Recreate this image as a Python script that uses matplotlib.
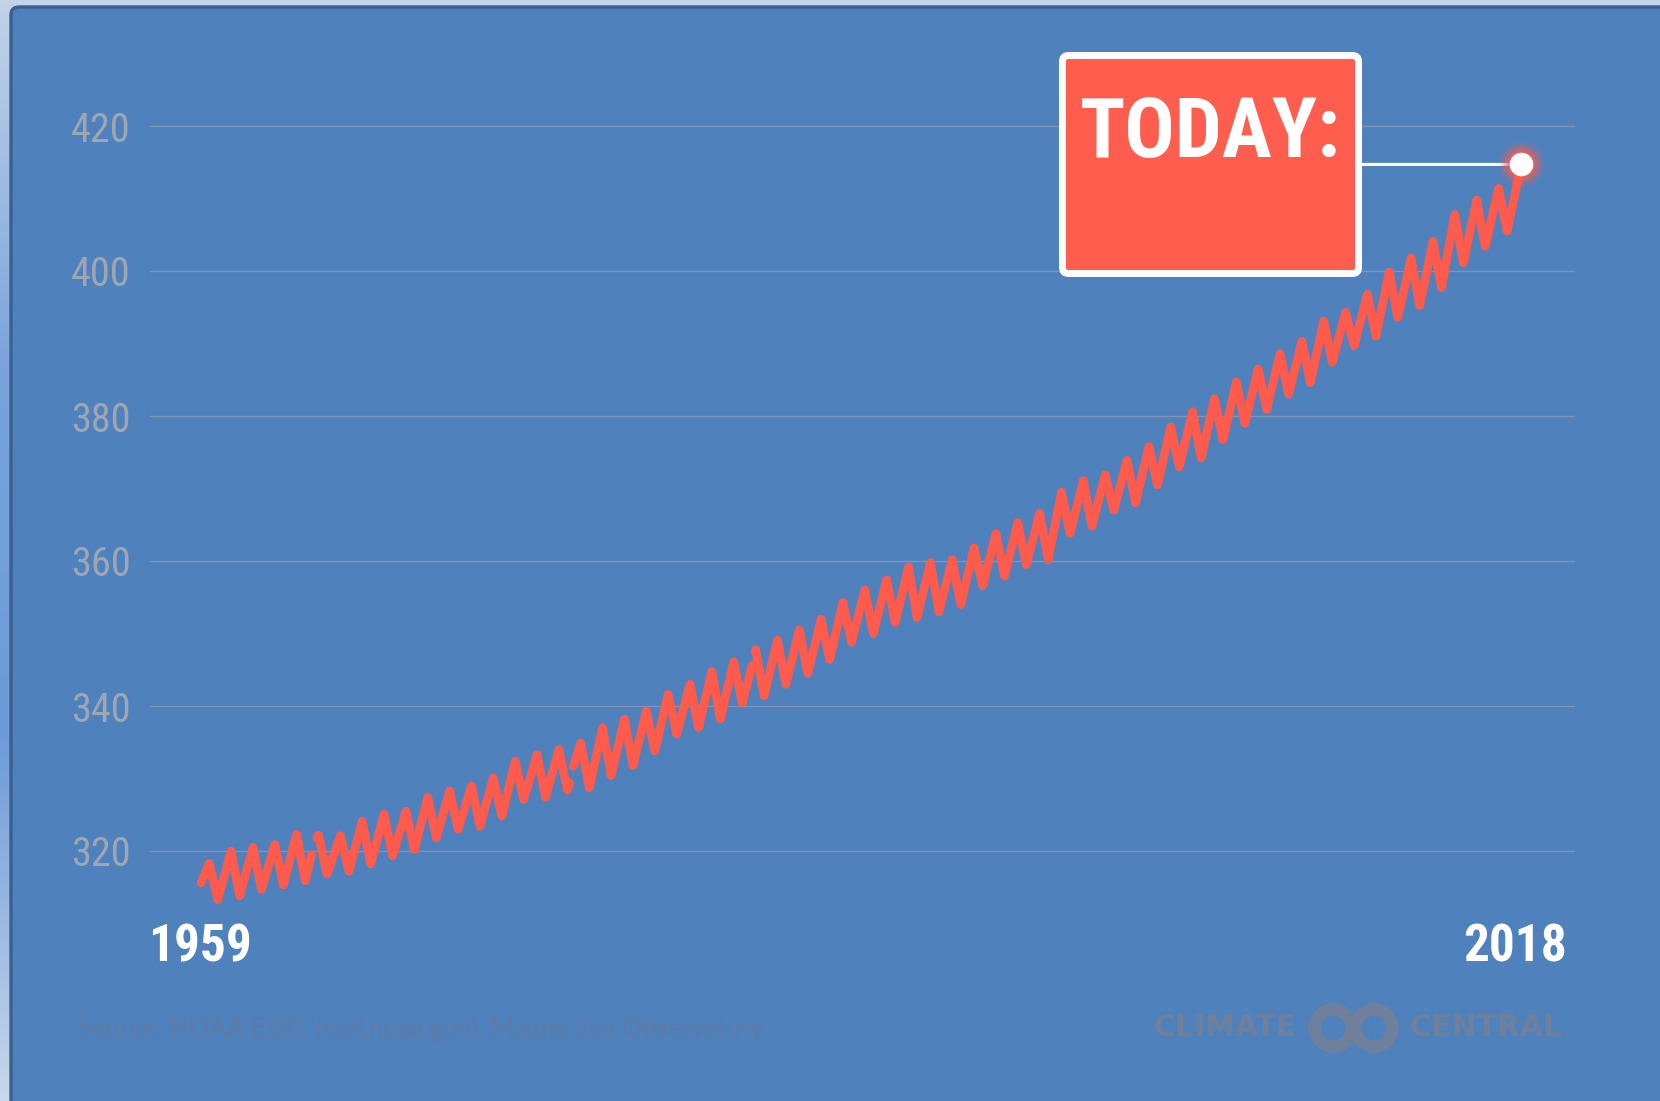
import numpy as np
import matplotlib.pyplot as plt
from matplotlib import font_manager
from matplotlib.colors import LinearSegmentedColormap
from matplotlib.patches import FancyBboxPatch, Circle

# Mauna Loa CO2 (ppm): seasonal high (May) and low (Sep/Oct) of each year
years = np.arange(1959, 2019)
peak_ppm = [318.3, 320.0, 320.5, 320.9, 322.3, 322.2, 322.1, 324.1, 325.1, 325.5,
            327.4, 328.3, 329.0, 330.1, 332.4, 333.3, 334.0, 334.9, 337.0, 338.2,
            339.3, 341.6, 343.0, 344.8, 346.1, 347.8, 349.1, 350.5, 352.0, 354.3,
            356.0, 357.4, 359.2, 359.8, 360.2, 361.8, 363.8, 365.3, 366.6, 369.5,
            371.1, 371.9, 373.9, 375.8, 378.5, 380.6, 382.4, 384.7, 386.5, 388.6,
            390.3, 393.1, 394.3, 396.8, 399.9, 401.8, 404.1, 407.8, 409.8, 411.4]
trough_ppm = [313.3, 313.8, 314.7, 315.3, 315.9, 316.8, 317.2, 318.2, 319.3, 320.2,
              321.8, 323.0, 323.4, 324.8, 327.1, 327.4, 328.4, 328.7, 330.4, 331.8,
              333.8, 336.1, 337.0, 338.2, 340.4, 341.4, 343.0, 344.5, 346.4, 348.8,
              350.0, 351.5, 352.2, 353.0, 354.0, 356.6, 357.9, 359.5, 360.2, 363.8,
              364.8, 367.0, 368.0, 370.5, 373.0, 374.2, 376.7, 379.0, 380.9, 383.0,
              384.6, 387.4, 389.7, 391.0, 393.6, 395.2, 397.7, 401.1, 403.4, 405.5]
first_t, first_ppm = 1959.0, 315.6      # January 1959
last_t, last_ppm = 2019.42, 414.7       # latest reading
# months missing from the record: last value before, first value after
gap_end_t = [1964.07, 1975.88, 1984.22]
gap_end_ppm = [319.5, 329.4, 345.6]
gap_start_t = [1964.30, 1976.04, 1984.36]
gap_start_ppm = [321.8, 331.7, 347.6]

yticks = [320, 340, 360, 380, 400, 420]

pts = [(first_t, first_ppm), (last_t, last_ppm)]
pts += [(y + 0.38, p) for y, p in zip(years, peak_ppm)]
pts += [(y + 0.77, p) for y, p in zip(years, trough_ppm)]
for a, pa, b, pb in zip(gap_end_t, gap_end_ppm, gap_start_t, gap_start_ppm):
    pts += [(a, pa), ((a + b) / 2, np.nan), (b, pb)]
pts.sort(key=lambda p: p[0])
t = np.array([p[0] for p in pts])
ppm = np.array([p[1] for p in pts])

installed = {f.name for f in font_manager.fontManager.ttflist}
narrow = next((f for f in ['Roboto Condensed', 'Liberation Sans Narrow', 'Open Sans Condensed']
               if f in installed), 'DejaVu Sans')

W, H = 1660, 1101
bg = '#4f81bd'
red = '#ff5b4c'

fig = plt.figure(figsize=(W / 100, H / 100), dpi=100)

# page behind the panel
back = fig.add_axes([0, 0, 1, 1], zorder=0)
back.set_xlim(0, W)
back.set_ylim(H, 0)
back.axis('off')
strip = LinearSegmentedColormap.from_list('strip', ['#c2d3ea', '#7aa3dc', '#6d9ad8', '#c8d7ec'])
back.imshow(np.linspace(0, 1, 256)[:, None], extent=[0, W, H, 0], aspect='auto', cmap=strip)
back.add_patch(FancyBboxPatch((11, 7), W, H, boxstyle='round,pad=0,rounding_size=8',
                              fc=bg, ec='#3b5f8f', lw=2.4))

ax = fig.add_axes([150 / W, 1 - 923.5 / H, 1425 / W, 870 / H], zorder=1)
ax.patch.set_alpha(0)
ax.set_xlim(1956.67, 2021.88)
ax.set_ylim(310, 430)
for s in ax.spines.values():
    s.set_visible(False)
ax.set_xticks([])
ax.set_yticks(yticks)
ax.set_yticklabels([str(v) for v in yticks])
ax.tick_params(axis='y', length=0, pad=14, labelsize=29, labelcolor='#a0a6b1')
for lab in ax.get_yticklabels():
    lab.set_family(narrow)
ax.grid(axis='y', color='#8094b3', lw=1.0)
ax.set_axisbelow(True)

ax.plot(t, ppm, color=red, lw=6.2, solid_joinstyle='round', solid_capstyle='round', zorder=3)

# glowing marker on the latest value, tied to the label box
ax.annotate('', xy=(last_t, last_ppm), xytext=(1360 / W, last_ppm),
            xycoords='data', textcoords=('figure fraction', 'data'),
            arrowprops=dict(arrowstyle='-', color='white', lw=2.2, shrinkA=0, shrinkB=0),
            zorder=4)
for ms, a in [(33, 0.12), (29, 0.2), (25, 0.3), (21, 0.5)]:
    ax.plot(last_t, last_ppm, 'o', ms=ms, color=red, alpha=a, mec='none', zorder=5, clip_on=False)
ax.plot(last_t, last_ppm, 'o', ms=17, color='white', mec='none', zorder=6, clip_on=False)

# overlay in pixel units for the label box and footer
ov = fig.add_axes([0, 0, 1, 1], zorder=2)
ov.set_xlim(0, W)
ov.set_ylim(H, 0)
ov.axis('off')
ov.patch.set_alpha(0)
ov.add_patch(FancyBboxPatch((1062.5, 55.5), 296, 218, boxstyle='round,pad=0,rounding_size=6',
                            fc='#ff5d4e', ec='white', lw=5))
ov.text(1210, 134, 'TODAY:', ha='center', va='center', color='white', fontsize=60,
        fontweight='bold', family=narrow)

ov.text(148, 948, '1959', ha='left', va='center', color='white', fontsize=37,
        fontweight='bold', family=narrow)
ov.text(1567, 948, '2018', ha='right', va='center', color='white', fontsize=37,
        fontweight='bold', family=narrow)

ov.text(77, 1029, 'Source: NOAA ESRL (esrl.noaa.gov), Mauna Loa Observatory', ha='left',
        va='center', color='#5f7ba6', fontsize=18.5, family='Lato')

logo = '#6e809c'
ov.text(1297, 1028, 'CLIMATE', ha='right', va='center', color=logo, fontsize=21.5,
        fontweight='bold', family='DejaVu Sans')
ov.text(1409, 1028, 'CENTRAL', ha='left', va='center', color=logo, fontsize=21.5,
        fontweight='bold', family='DejaVu Sans')
for cx in (1333, 1374):
    ov.add_patch(Circle((cx, 1028), 18.5, fill=False, ec=logo, lw=9))

fig.savefig('out.png', dpi=100, facecolor='#c2d3ea')
